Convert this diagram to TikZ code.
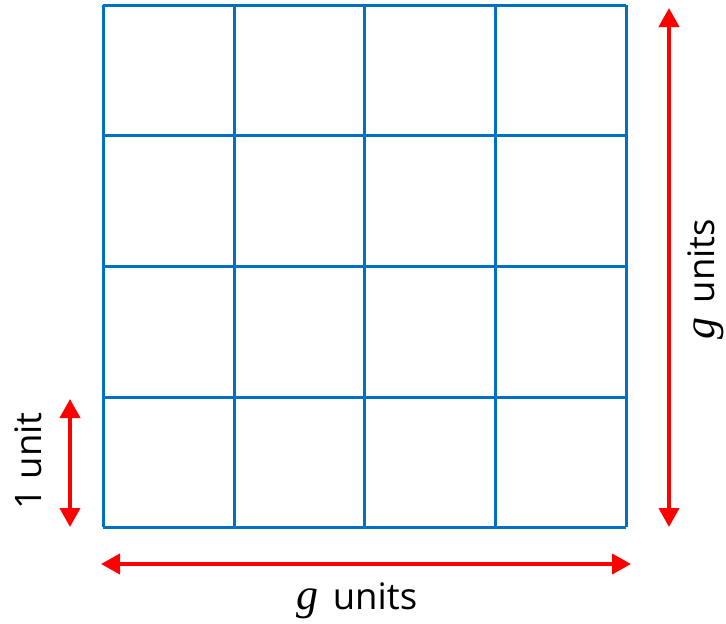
\documentclass[tikz,border=0pt]{standalone}
\usepackage{fontspec}
\setmainfont{Open Sans}
\newfontfamily\gfont{Liberation Serif}
\usetikzlibrary{arrows.meta}
\definecolor{gridblue}{RGB}{0,112,192}
\newcommand{\gvar}{{\gfont\itshape\fontsize{44}{48}\selectfont g}\hspace{14pt}}
\begin{document}
\begin{tikzpicture}[x=1pt,y=-1pt,
  gridline/.style={draw=gridblue,line width=3pt},
  dimarrow/.style={draw=red,line width=4pt,{Triangle[length=19pt,width=20pt]}-{Triangle[length=19pt,width=20pt]}},
  lbl/.style={font=\fontsize{36.5}{40}\selectfont,inner sep=0pt}]
\useasboundingbox (0,0) rectangle (726,624);
\foreach \i/\x in {0/103,1/234,2/364,3/495,4/626}{
  \draw[gridline] (\x,5) -- (\x,527);
}
\foreach \j/\y in {0/5,1/135,2/266,3/397,4/527}{
  \draw[gridline] (103,\y) -- (626,\y);
}
\coordinate (rt) at (669,8);
\coordinate (rb) at (669,527);
\coordinate (bl) at (101,564);
\coordinate (br) at (631,564);
\coordinate (lt) at (70,399);
\coordinate (lb) at (70,527);
\draw[dimarrow] (rt) -- (rb);
\draw[dimarrow] (bl) -- (br);
\draw[dimarrow] (lt) -- (lb);
\node[lbl,rotate=90] (rl) at (706,279) {\gvar units};
\node[lbl] (bt) at (357,601) {\gvar units};
\node[lbl,rotate=90] (ll) at (28,461) {1 unit};
\end{tikzpicture}
\end{document}
